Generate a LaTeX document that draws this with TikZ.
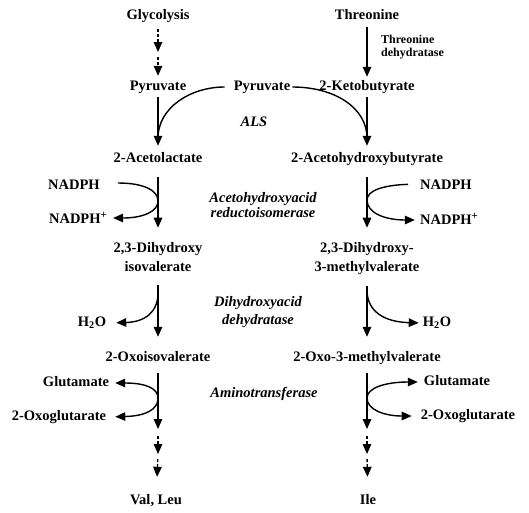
\documentclass[tikz,border=0pt]{standalone}
\usepackage{fontspec}
\setmainfont{Liberation Serif}
\usetikzlibrary{arrows.meta}
\newcommand\plusion{\raisebox{5pt}{\fontsize{11}{11}\selectfont +}}
\tikzset{
    metabolite/.style={font=\fontsize{14.5}{19}\selectfont\bfseries, inner sep=0pt, text height=10pt, text depth=3pt},
    metabolite2/.style={font=\fontsize{14.5}{19}\selectfont\bfseries, inner sep=0pt, align=center},
    enzyme/.style={font=\fontsize{14.5}{15}\selectfont\bfseries\itshape, inner sep=0pt, align=center},
    reaction/.style={->, line width=1.4pt},
    multistep/.style={->, line width=1.4pt, dash pattern=on 3pt off 2pt},
    sideline/.style={line width=1.4pt}
}

\begin{document}
\begin{tikzpicture}[x=1pt, y=-1pt, >={Triangle[length=10pt,width=8.5pt]}]

        \useasboundingbox[fill=white] (0,0) rectangle (529,512);

        % -----------------------------------------------------------------
        % PARTENZA: GLICOLISI E TREONINA
        % -----------------------------------------------------------------
        \node[metabolite] (glyc) at (158,16) {Glycolysis};
        \node[metabolite] (thr) at (367,16) {Threonine};
        \node[font=\fontsize{12}{13}\selectfont\bfseries, inner sep=0pt, align=left, anchor=west] (thrdh) at (381,47) {Threonine\\dehydratase};

        \node[metabolite] (pyrL) at (158,87) {Pyruvate};
        \node[metabolite] (pyrM) at (262,87) {Pyruvate};
        \node[metabolite] (keto) at (367,87) {2-Ketobutyrate};
        \node[enzyme] (als) at (254,122) {ALS};

        \coordinate (gm) at (158,52);
        \draw[multistep, shorten <=6.5pt] (glyc) -- (gm);
        \draw[multistep, shorten <=5pt, shorten >=4.5pt] (gm) -- (pyrL);
        \draw[reaction, shorten <=4.5pt, shorten >=3.5pt] (thr) -- (keto);

        % -----------------------------------------------------------------
        % ALS
        % -----------------------------------------------------------------
        \node[metabolite] (acl) at (158,159) {2-Acetolactate};
        \node[metabolite] (ahb) at (367,159) {2-Acetohydroxybutyrate};

        \coordinate (alsL) at (158,138);
        \coordinate (alsR) at (367,138);
        \draw[reaction, shorten <=3.5pt, shorten >=6.5pt] (pyrL) -- (acl);
        \draw[reaction, shorten <=3.5pt, shorten >=6.5pt] (keto) -- (ahb);
        \draw[sideline, shorten <=9pt] (pyrM.west) .. controls (190,87) and (158,108) .. (alsL);
        \draw[sideline, shorten <=2pt] (pyrM.east) .. controls (335,87) and (367,108) .. (alsR);

        % -----------------------------------------------------------------
        % REDUTTOISOMERASI
        % -----------------------------------------------------------------
        \node[metabolite] (nadphL) at (74,186) {NADPH};
        \node[metabolite] (nadphpL) at (78,220) {NADPH\plusion};
        \node[metabolite] (nadphR) at (446,186) {NADPH};
        \node[metabolite] (nadphpR) at (449,221) {NADPH\plusion};
        \node[enzyme] (ahair) at (263,205) {Acetohydroxyacid\\reductoisomerase};

        \node[metabolite2] (dhiv) at (158,257.5) {2,3-Dihydroxy\\isovalerate};
        \node[metabolite2] (dhmv) at (367,259) {2,3-Dihydroxy-\\3-methylvalerate};

        \coordinate (rL1) at (158,201);
        \coordinate (rR1) at (367,200);
        \draw[reaction, shorten <=11.5pt, shorten >=15pt] (acl) -- (dhiv);
        \draw[reaction, shorten <=11.5pt, shorten >=15pt] (ahb) -- (dhmv);
        \draw[reaction, shorten <=18pt, shorten >=6pt] ([yshift=3pt]nadphL.east) .. controls (145,183) and (158,191) .. (rL1) .. controls (158,212) and (142,218) .. ([yshift=2pt]nadphpL.east);
        \draw[reaction, shorten <=12pt, shorten >=5pt] ([yshift=2pt]nadphR.west) .. controls (385,185) and (367,190) .. (rR1) .. controls (367,213) and (385,220) .. ([yshift=1pt]nadphpR.west);

        % -----------------------------------------------------------------
        % DEIDRATASI
        % -----------------------------------------------------------------
        \node[metabolite] (h2oL) at (92,323) {H\textsubscript{2}O};
        \node[metabolite] (h2oR) at (437,323) {H\textsubscript{2}O};
        \node[enzyme, font=\fontsize{14.5}{18}\selectfont\bfseries\itshape] (dhad) at (258,312) {Dihydroxyacid\\dehydratase};

        \node[metabolite] (oiv) at (158,358) {2-Oxoisovalerate};
        \node[metabolite] (omv) at (367,358) {2-Oxo-3-methylvalerate};

        \coordinate (rL3) at (158,293);
        \coordinate (rR3) at (367,290);
        \draw[reaction, shorten <=13pt, shorten >=14.5pt] (dhiv) -- (oiv);
        \draw[reaction, shorten <=11pt, shorten >=14.5pt] (dhmv) -- (omv);
        \draw[reaction, shorten >=10pt] (rL3) .. controls (158,312) and (145,322) .. (h2oL.east);
        \draw[reaction, shorten >=4pt] (rR3) .. controls (367,312) and (385,322) .. (h2oR.west);

        % -----------------------------------------------------------------
        % TRANSAMINASI
        % -----------------------------------------------------------------
        \node[metabolite] (gluL) at (76,383) {Glutamate};
        \node[metabolite] (ogL) at (59,417) {2-Oxoglutarate};
        \node[metabolite] (gluR) at (457,382) {Glutamate};
        \node[metabolite] (ogR) at (468,416) {2-Oxoglutarate};
        \node[enzyme] (amt) at (264,394) {Aminotransferase};

        \node[metabolite] (valleu) at (156,501) {Val, Leu};
        \node[metabolite] (ile) at (368,501) {Ile};

        \coordinate (rL4) at (158,398);
        \coordinate (rR4) at (367,398);
        \coordinate (vL1) at (158,429);
        \coordinate (vL2) at (158,454);
        \coordinate (vR1) at (367,429);
        \coordinate (vR2) at (367,454);
        \draw[reaction, shorten <=8.5pt] (oiv) -- (vL1);
        \draw[reaction, shorten <=8.5pt] (omv) -- (vR1);
        \draw[reaction, shorten >=6pt] (rL4) .. controls (158,388) and (145,383) .. (gluL.east);
        \draw[reaction, shorten >=9pt] (rL4) .. controls (158,410) and (145,416) .. (ogL.east);
        \draw[reaction, shorten >=6pt] (rR4) .. controls (367,388) and (385,382) .. (gluR.west);
        \draw[reaction, shorten >=9pt] (rR4) .. controls (367,410) and (385,416) .. (ogR.west);

        \draw[multistep, shorten <=7pt] (vL1) -- (vL2);
        \draw[multistep, shorten <=5pt, shorten >=17.5pt] (vL2) -- (valleu);
        \draw[multistep, shorten <=7pt] (vR1) -- (vR2);
        \draw[multistep, shorten <=5pt, shorten >=17.5pt] (vR2) -- (ile);

\end{tikzpicture}
\end{document}
